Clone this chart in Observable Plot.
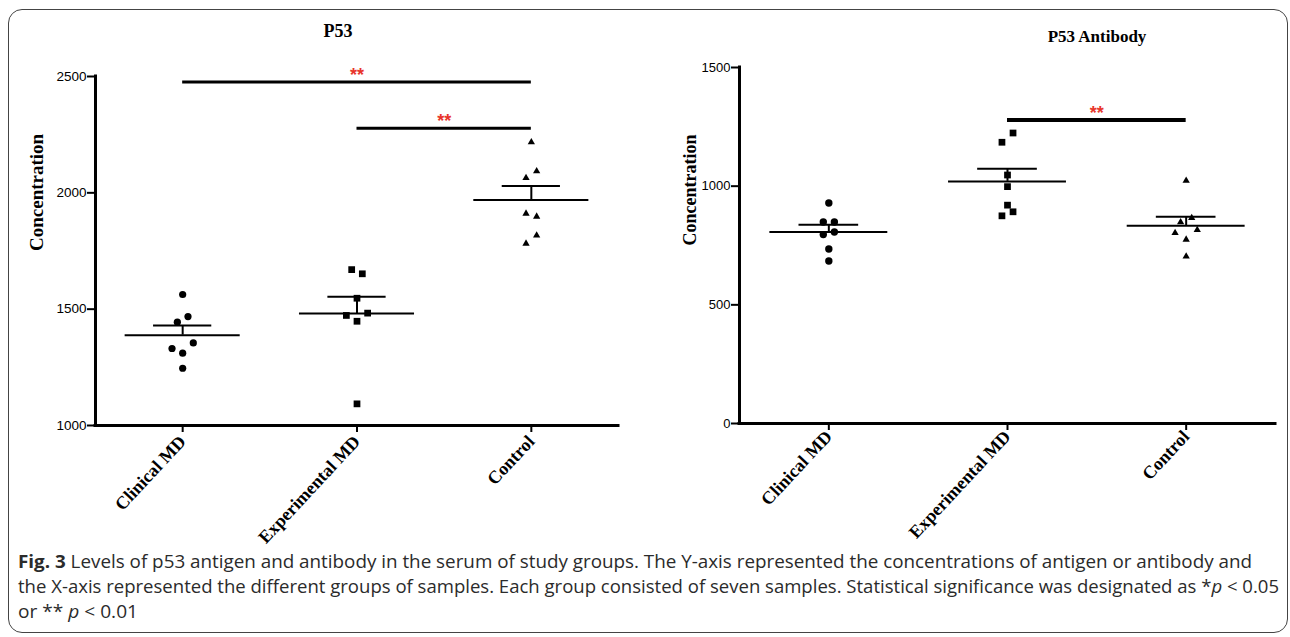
<!DOCTYPE html>
<html>
<head>
<meta charset="utf-8">
<script src="https://cdn.jsdelivr.net/npm/d3@7"></script>
<script src="https://cdn.jsdelivr.net/npm/@observablehq/plot@0.6"></script>
<style>
  body { margin: 0; background: #fff; }
  #wrap { position: relative; width: 1290px; height: 637px; overflow: hidden; background: #fff; }
  #frame { position: absolute; left: 8px; top: 9px; width: 1280px; height: 624px; border: 1.5px solid #444; border-radius: 14px; box-sizing: border-box; pointer-events: none; }
  .ttl { position: absolute; font-family: "Liberation Serif", serif; font-weight: bold; color: #000; transform: translate(-50%, -50%); white-space: nowrap; }
  .panel { position: absolute; top: 0; }
  #cap { position: absolute; left: 0; top: 540px; }
</style>
</head>
<body>
<div id="wrap">
  <div id="left" class="panel" style="left:0px"></div>
  <div id="right" class="panel" style="left:645px"></div>
  <div class="ttl" style="left:338px; top:31px; font-size:18px">P53</div>
  <div class="ttl" style="left:1097px; top:37px; font-size:17px">P53 Antibody</div>
  <svg id="cap" width="1290" height="97" xmlns="http://www.w3.org/2000/svg"
       style="font-family:'Open Sans', sans-serif; font-size:18px; fill:#2b2b2b">
    <text x="18" y="28" textLength="1234" lengthAdjust="spacingAndGlyphs"><tspan font-weight="bold">Fig. 3</tspan> Levels of p53 antigen and antibody in the serum of study groups. The Y-axis represented the concentrations of antigen or antibody and</text>
    <text x="18" y="53" textLength="1261" lengthAdjust="spacingAndGlyphs">the X-axis represented the different groups of samples. Each group consisted of seven samples. Statistical significance was designated as *<tspan font-style="italic">p</tspan> &lt; 0.05</text>
    <text x="18" y="78" textLength="120" lengthAdjust="spacingAndGlyphs">or ** <tspan font-style="italic">p</tspan> &lt; 0.01</text>
  </svg>
  <div id="frame"></div>
</div>
<script>
// ---------- data ----------
const groups = ["Clinical MD", "Experimental MD", "Control"];
const symbols = ["circle", "square", "triangle"];

// P53 antigen (left panel)
const p53Clinical      = [1563, 1468, 1444, 1355, 1331, 1311, 1246];
const p53Experimental  = [1670, 1652, 1547, 1473, 1483, 1448, 1093];
const p53Control       = [2218, 2093, 2064, 1911, 1898, 1817, 1782];
// horizontal scatter slot of each point (column-scatter layout)
const p53ClinicalSlot     = [0, 1, -1, 2, -2, 0, 0];
const p53ExperimentalSlot = [-1, 1, 0, -2, 2, 0, 0];
const p53ControlSlot      = [0, 1, -1, -1, 1, 1, -1];
const p53Ticks = [1000, 1500, 2000, 2500];
const p53Sig = [
  {from: 0, to: 2, y: 2476, label: "**"},
  {from: 1, to: 2, y: 2278, label: "**"}
];

// P53 antibody (right panel)
const abClinical      = [929, 849, 849, 807, 796, 735, 685];
const abExperimental  = [1224, 1185, 1047, 998, 920, 892, 875];
const abControl       = [1023, 866, 848, 816, 803, 775, 704];
const abClinicalSlot     = [0, -1, 1, 1, -1, 0, 0];
const abExperimentalSlot = [1, -1, 0, 0, 0, 1, -1];
const abControlSlot      = [0, 1, -1, 2, -2, 0, 0];
const abTicks = [0, 500, 1000, 1500];
const abSig = [
  {from: 1, to: 2, y: 1279, label: "**"}
];

// ---------- drawing ----------
function panel(cfg) {
  const rows = [];
  cfg.values.forEach((vals, g) => vals.forEach((v, j) => rows.push({g, x: g + cfg.slots[g][j] * cfg.slotStep, y: v})));
  const stats = cfg.values.map((vals, g) => {
    const mean = d3.mean(vals);
    const sem = d3.deviation(vals) / Math.sqrt(vals.length);
    return {g, mean, top: mean + sem};
  });
  const y0 = cfg.yDomain[0], y1 = cfg.yDomain[1];
  const dotSizes = cfg.dotR;
  return Plot.plot({
    width: cfg.width, height: cfg.height,
    marginLeft: cfg.marginLeft, marginRight: cfg.marginRight,
    marginTop: cfg.marginTop, marginBottom: cfg.marginBottom,
    style: {background: "transparent", overflow: "visible", color: "#000"},
    x: {type: "linear", domain: [-0.5, 2.5], axis: null},
    y: {domain: cfg.yDomain, axis: null},
    marks: [
      // axes lines
      Plot.ruleX([-0.5], {y1: y0, y2: y1, strokeWidth: 3, strokeLinecap: "square"}),
      Plot.ruleY([y0], {x1: -0.5, x2: 2.5, strokeWidth: 3, strokeLinecap: "square"}),
      Plot.axisY({ticks: cfg.yTicks, tickFormat: "d", tickSize: 8, tickPadding: 1, strokeWidth: 2, label: null,
        fontFamily: "Liberation Sans, Arial, sans-serif", fontSize: cfg.tickFont}),
      Plot.axisX({ticks: [0, 1, 2], tickFormat: i => groups[i], tickRotate: -47, tickSize: 7, tickPadding: cfg.catPad,
        strokeWidth: 2, label: null, fontFamily: "Liberation Serif, serif", fontWeight: "bold", fontSize: cfg.catFont}),
      Plot.text(["Concentration"], {frameAnchor: "left", rotate: -90, dx: cfg.labelDx,
        fontFamily: "Liberation Serif, serif", fontWeight: "bold", fontSize: cfg.labelFont}),
      // mean and SEM
      Plot.ruleY(stats, {y: "mean", x1: d => d.g - 0.33, x2: d => d.g + 0.33, strokeWidth: 2}),
      Plot.ruleY(stats, {y: "top", x1: d => d.g - 0.167, x2: d => d.g + 0.167, strokeWidth: 2}),
      Plot.ruleX(stats, {x: "g", y1: "mean", y2: "top", strokeWidth: 2}),
      // points
      ...[0, 1, 2].map(g => Plot.dot(rows.filter(d => d.g === g), {x: "x", y: "y", symbol: symbols[g], r: dotSizes[g], fill: "#000", stroke: "none"})),
      // significance bars
      Plot.ruleY(cfg.sig, {y: "y", x1: "from", x2: "to", strokeWidth: cfg.sigWidth}),
      Plot.text(cfg.sig, {x: d => (d.from + d.to) / 2, y: "y", text: "label", dy: -7, fill: "#e8352b",
        fontFamily: "Liberation Sans, Arial, sans-serif", fontWeight: "bold", fontSize: 18})
    ]
  });
}

document.getElementById("left").appendChild(panel({
  values: [p53Clinical, p53Experimental, p53Control],
  slots: [p53ClinicalSlot, p53ExperimentalSlot, p53ControlSlot],
  slotStep: 0.0305,
  yDomain: [1000, 2500], yTicks: p53Ticks, sig: p53Sig, sigWidth: 3,
  width: 640, height: 545, marginLeft: 95, marginRight: 22, marginTop: 76, marginBottom: 120,
  tickFont: 13.5, catFont: 18, catPad: 6, labelFont: 19, labelDx: -59, dotR: [3.6, 3.8, 2.7]
}));

document.getElementById("right").appendChild(panel({
  values: [abClinical, abExperimental, abControl],
  slots: [abClinicalSlot, abExperimentalSlot, abControlSlot],
  slotStep: 0.031,
  yDomain: [0, 1500], yTicks: abTicks, sig: abSig, sigWidth: 4,
  width: 645, height: 545, marginLeft: 94, marginRight: 15, marginTop: 67, marginBottom: 122,
  tickFont: 13, catFont: 18, catPad: 3, labelFont: 18, labelDx: -49, dotR: [3.7, 3.8, 2.7]
}));
</script>
</body>
</html>
